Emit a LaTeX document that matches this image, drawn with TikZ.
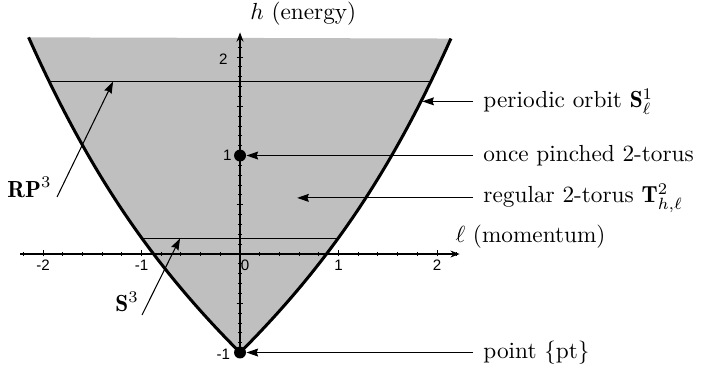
\documentclass[tikz,border=0pt]{standalone}
\usepackage{fontspec}
\usetikzlibrary{arrows.meta}
\newfontfamily\tickfont{Liberation Sans}
\begin{document}
\begin{tikzpicture}[x=1.487cm,y=1.487cm,
  region/.style={fill=black!25},
  bdry/.style={line width=1.3pt},
  level/.style={line width=0.6pt},
  axis/.style={line width=0.5pt,-{Stealth[length=4pt,width=3pt]}},
  ptr/.style={line width=0.45pt,-{Stealth[length=5pt,width=3.4pt,inset=0.6pt]}},
  tickmark/.style={line width=0.4pt},
  ticklab/.style={font=\tickfont\fontsize{6.5}{7}\selectfont, inner sep=0pt},
  lab/.style={anchor=west, inner sep=0pt},
  rlab/.style={anchor=west, inner sep=0pt},
  dot/.style={circle, fill=black, inner sep=0pt, minimum size=0.18cm}]
\useasboundingbox (-2.437,-1.157) rectangle (4.741,2.579);
% shaded region and level lines
\begin{scope}
  \clip plot[variable=\t, domain=0.2:1, samples=100] ({-(1-\t*\t)/sqrt(\t)},{-\t+(1-\t*\t)/(2*\t)})
     -- plot[variable=\t, domain=1:0.2, samples=100] ({(1-\t*\t)/sqrt(\t)},{-\t+(1-\t*\t)/(2*\t)}) -- cycle;
  \fill[region] (-3,-2) rectangle (3,3);
  \draw[level] (-3,1.75) -- (3,1.75);
  \draw[level] (-3,0.16) -- (3,0.16);
\end{scope}
% axes
\draw[axis] (-2.23,0) -- (2.23,0);
\draw[axis] (0,-1) -- (0,2.25);
\foreach \i in {-9,...,22} {\draw[tickmark] (-0.02,\i/10) -- (0.02,\i/10);}
\foreach \y in {-0.5,0.5,1,1.5,2} {\draw[tickmark] (-0.035,\y) -- (0.035,\y);}
\foreach \i in {-11,...,11} {\draw[tickmark] (\i/5,-0.02) -- (\i/5,0.02);}
\foreach \x in {-2,-1,1,2} {\draw[tickmark] (\x,-0.02) -- (\x,0.045);}
\node[ticklab] (tlm2) at (-2,-0.11) {-2};
\node[ticklab] (tlm1) at (-1,-0.11) {-1};
\node[ticklab] (tl1) at (1,-0.11) {1};
\node[ticklab] (tl2) at (2,-0.11) {2};
\node[ticklab] (tl0) at (0.05,-0.11) {0};
\node[ticklab] (tv2) at (-0.17,1.98) {2};
\node[ticklab] (tv1) at (-0.13,1.0) {1};
\node[ticklab] (tvm1) at (-0.17,-1.02) {-1};
% boundary
\draw[bdry] plot[variable=\t, domain=0.2:1, samples=100] ({-(1-\t*\t)/sqrt(\t)},{-\t+(1-\t*\t)/(2*\t)})
     -- plot[variable=\t, domain=1:0.2, samples=100] ({(1-\t*\t)/sqrt(\t)},{-\t+(1-\t*\t)/(2*\t)});
% dots
\node[dot] (pinch) at (0,1) {};
\node[dot] (pt) at (0,-1) {};
% axis labels
\node[lab] (hlab) at (0.10,2.437) {$h$ (energy)};
\node[lab] (llab) at (2.183,0.173) {$\ell$ (momentum)};
% left labels
\node[lab] (rp) at (-2.366,0.68) {$\mathbf{RP}^3$};
\node[lab] (s3) at (-1.27,-0.487) {$\mathbf{S}^3$};
\coordinate (rpS) at (-1.858,0.579);
\coordinate (rpT) at (-1.289,1.75);
\coordinate (sS) at (-0.995,-0.619);
\coordinate (sT) at (-0.609,0.16);
\draw[ptr] (rpS) -- (rpT);
\draw[ptr] (sS) -- (sT);
% right labels
\node[rlab] (po) at (2.467,1.55) {periodic orbit $\mathbf{S}^1_\ell$};
\node[rlab] (op) at (2.467,1) {once pinched 2-torus};
\node[rlab] (rt) at (2.467,0.57) {regular 2-torus $\mathbf{T}^2_{h,\ell}$};
\node[rlab] (pl) at (2.467,-1) {point \{pt\}};
\coordinate (poT) at (1.85,1.55);
\coordinate (rtT) at (0.58,0.57);
\draw[ptr] ([xshift=-0.1cm*1.487]po.west) -- (poT);
\draw[ptr] ([xshift=-0.1cm*1.487]op.west) -- (pinch.east);
\draw[ptr] ([xshift=-0.1cm*1.487]rt.west) -- (rtT);
\draw[ptr] ([xshift=-0.1cm*1.487]pl.west) -- (pt.east);
\end{tikzpicture}
\end{document}
